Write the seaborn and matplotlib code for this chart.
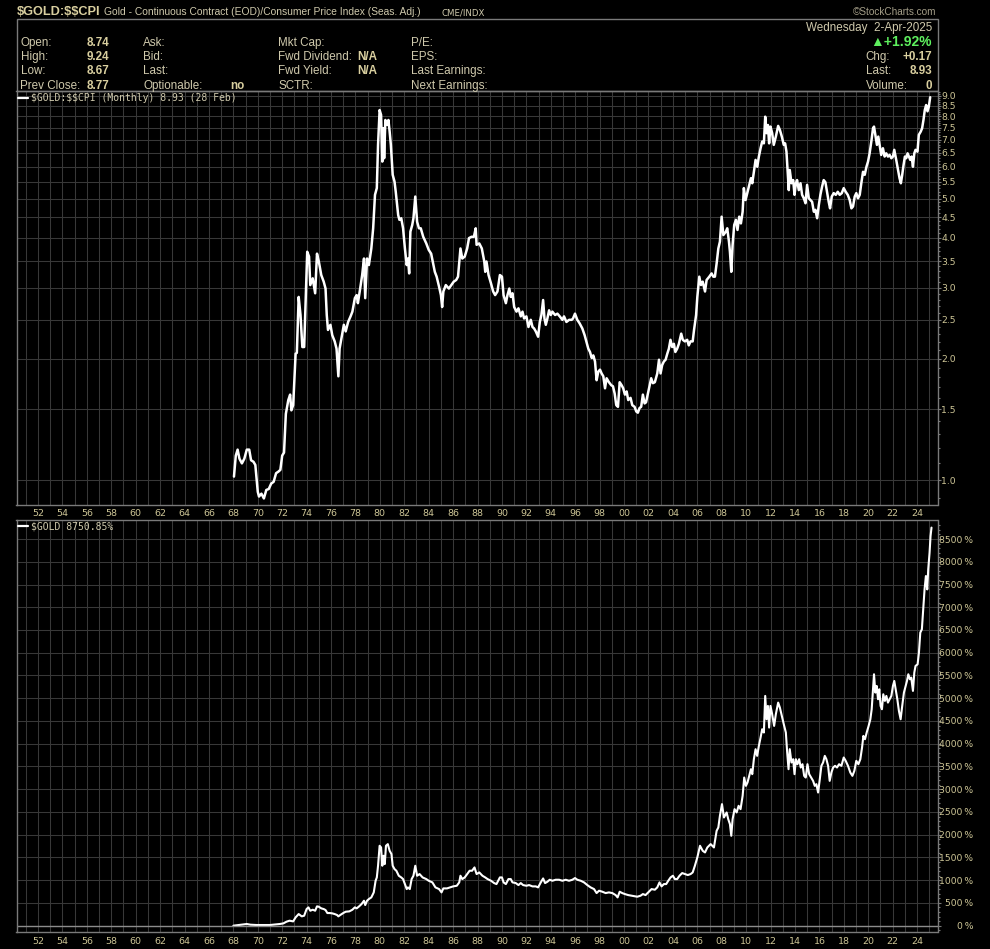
import numpy as np
import pandas as pd
import seaborn as sns
import matplotlib.pyplot as plt
from matplotlib.lines import Line2D
from matplotlib.patches import Rectangle
from matplotlib.ticker import FixedLocator, NullFormatter

# --- Gold / CPI ratio (monthly) ---
ratio_years = [
    1968.05, 1968.2, 1968.35, 1968.5, 1968.7, 1968.9, 1969.1, 1969.3, 1969.45, 1969.65,
    1969.8, 1970.0, 1970.1, 1970.3, 1970.5, 1970.7, 1970.9, 1971.1, 1971.3, 1971.5,
    1971.7, 1971.85, 1972.0, 1972.15, 1972.3, 1972.5, 1972.65, 1972.75, 1972.9, 1973.1,
    1973.2, 1973.35, 1973.5, 1973.65, 1973.8, 1974.05, 1974.2, 1974.3, 1974.5, 1974.7,
    1974.85, 1975.0, 1975.2, 1975.4, 1975.55, 1975.65, 1975.75, 1975.95, 1976.1, 1976.3,
    1976.45, 1976.6, 1976.7, 1976.9, 1977.05, 1977.2, 1977.4, 1977.6, 1977.75, 1977.95,
    1978.1, 1978.2, 1978.35, 1978.55, 1978.7, 1978.8, 1978.95, 1979.1, 1979.3, 1979.45,
    1979.6, 1979.75, 1979.85, 1979.98, 1980.1, 1980.2, 1980.3, 1980.35, 1980.45, 1980.6,
    1980.7, 1980.8, 1980.9, 1981.05, 1981.2, 1981.3, 1981.5, 1981.6, 1981.75, 1981.9,
    1982.05, 1982.2, 1982.3, 1982.4, 1982.5, 1982.65, 1982.75, 1982.9, 1983.05, 1983.2,
    1983.35, 1983.55, 1983.8, 1984.0, 1984.2, 1984.5, 1984.65, 1984.85, 1985.0, 1985.1,
    1985.2, 1985.4, 1985.65, 1985.85, 1986.05, 1986.25, 1986.4, 1986.6, 1986.75, 1986.95,
    1987.15, 1987.3, 1987.5, 1987.7, 1987.85, 1987.92, 1988.14, 1988.35, 1988.55, 1988.63,
    1988.73, 1988.9, 1989.1, 1989.28, 1989.44, 1989.63, 1989.83, 1990.0, 1990.13, 1990.32,
    1990.45, 1990.6, 1990.72, 1990.86, 1991.0, 1991.19, 1991.35, 1991.54, 1991.68, 1991.81,
    1992.0, 1992.17, 1992.36, 1992.5, 1992.63, 1992.77, 1992.96, 1993.1, 1993.23, 1993.37,
    1993.48, 1993.59, 1993.72, 1993.86, 1994.0, 1994.13, 1994.35, 1994.54, 1994.73, 1994.95,
    1995.08, 1995.28, 1995.5, 1995.71, 1995.82, 1995.98, 1996.17, 1996.36, 1996.58, 1996.77,
    1996.91, 1997.07, 1997.21, 1997.35, 1997.48, 1997.62, 1997.75, 1997.89, 1998.03, 1998.16,
    1998.3, 1998.44, 1998.57, 1998.76, 1998.95, 1999.09, 1999.23, 1999.36, 1999.5, 1999.64,
    1999.8, 1999.93, 2000.07, 2000.21, 2000.34, 2000.53, 2000.67, 2000.86, 2001.0, 2001.13,
    2001.27, 2001.4, 2001.54, 2001.68, 2001.8, 2001.95, 2002.09, 2002.22, 2002.36, 2002.52,
    2002.72, 2002.86, 2002.99, 2003.12, 2003.26, 2003.4, 2003.54, 2003.67, 2003.8, 2003.94,
    2004.08, 2004.2, 2004.35, 2004.49, 2004.68, 2004.81, 2004.98, 2005.17, 2005.3, 2005.44,
    2005.62, 2005.73, 2005.9, 2006.0, 2006.16, 2006.3, 2006.44, 2006.63, 2006.76, 2006.98,
    2007.17, 2007.31, 2007.44, 2007.58, 2007.72, 2007.85, 2007.99, 2008.13, 2008.34, 2008.45,
    2008.59, 2008.67, 2008.78, 2008.89, 2009.02, 2009.16, 2009.29, 2009.43, 2009.57, 2009.71,
    2009.81, 2009.95, 2010.09, 2010.25, 2010.39, 2010.5, 2010.63, 2010.77, 2010.91, 2011.04,
    2011.18, 2011.31, 2011.45, 2011.56, 2011.67, 2011.78, 2011.88, 2011.99, 2012.13, 2012.26,
    2012.43, 2012.62, 2012.76, 2012.92, 2013.08, 2013.19, 2013.3, 2013.41, 2013.49, 2013.57,
    2013.71, 2013.85, 2013.96, 2014.07, 2014.17, 2014.31, 2014.45, 2014.58, 2014.72, 2014.86,
    2014.99, 2015.13, 2015.26, 2015.4, 2015.54, 2015.67, 2015.81, 2015.95, 2016.08, 2016.22,
    2016.35, 2016.49, 2016.62, 2016.76, 2016.87, 2017.01, 2017.17, 2017.34, 2017.5, 2017.66,
    2017.83, 2017.99, 2018.15, 2018.32, 2018.48, 2018.62, 2018.75, 2018.89, 2019.02, 2019.16,
    2019.3, 2019.43, 2019.57, 2019.71, 2019.85, 2019.98, 2020.11, 2020.25, 2020.39, 2020.47,
    2020.6, 2020.71, 2020.82, 2020.93, 2021.06, 2021.2, 2021.34, 2021.47, 2021.61, 2021.75,
    2021.89, 2022.02, 2022.13, 2022.29, 2022.46, 2022.56, 2022.67, 2022.78, 2022.89, 2023.0,
    2023.11, 2023.22, 2023.33, 2023.44, 2023.55, 2023.66, 2023.77, 2023.87, 2024.03, 2024.14,
    2024.3, 2024.41, 2024.52, 2024.63, 2024.74, 2024.85, 2024.96, 2025.07,
]
ratio_values = [
    1.02, 1.15, 1.19, 1.13, 1.10, 1.13, 1.19, 1.19, 1.12, 1.11,
    1.09, 0.935, 0.91, 0.925, 0.90, 0.945, 0.95, 0.98, 0.99, 1.04,
    1.05, 1.06, 1.15, 1.17, 1.46, 1.58, 1.63, 1.49, 1.535, 2.06,
    2.07, 2.85, 2.57, 2.14, 2.14, 3.69, 3.59, 3.05, 3.17, 2.91,
    3.65, 3.49, 3.23, 3.11, 2.99, 2.57, 2.36, 2.43, 2.29, 2.21,
    2.12, 1.81, 2.12, 2.29, 2.43, 2.34, 2.47, 2.55, 2.62, 2.83,
    2.88, 2.75, 2.94, 3.23, 3.55, 2.83, 3.55, 3.42, 3.76, 4.22,
    5.11, 5.31, 6.80, 8.30, 8.07, 6.18, 7.48, 6.30, 7.84, 7.62,
    7.84, 7.34, 6.80, 5.73, 5.51, 5.20, 4.55, 4.43, 4.47, 4.22,
    3.76, 3.42, 3.55, 3.26, 4.14, 4.30, 4.47, 5.06, 4.38, 4.22,
    4.22, 4.02, 3.87, 3.73, 3.65, 3.29, 3.20, 3.02, 2.88, 2.69,
    2.94, 3.05, 2.99, 3.05, 3.11, 3.14, 3.20, 3.76, 3.55, 3.59,
    3.76, 3.99, 4.02, 4.02, 4.22, 3.84, 3.87, 3.76, 3.49, 3.29,
    3.49, 3.23, 3.08, 2.94, 2.88, 2.94, 3.23, 3.20, 2.88, 2.75,
    2.88, 2.99, 2.85, 2.91, 2.69, 2.62, 2.67, 2.55, 2.62, 2.52,
    2.55, 2.40, 2.50, 2.40, 2.38, 2.34, 2.27, 2.47, 2.57, 2.80,
    2.52, 2.43, 2.52, 2.64, 2.57, 2.62, 2.57, 2.59, 2.55, 2.50,
    2.55, 2.47, 2.50, 2.50, 2.52, 2.59, 2.50, 2.45, 2.38, 2.29,
    2.21, 2.12, 2.08, 2.01, 2.04, 1.97, 1.77, 1.86, 1.88, 1.84,
    1.81, 1.69, 1.79, 1.75, 1.72, 1.71, 1.64, 1.535, 1.52, 1.75,
    1.72, 1.69, 1.63, 1.66, 1.58, 1.60, 1.535, 1.52, 1.48, 1.47,
    1.51, 1.52, 1.63, 1.55, 1.56, 1.64, 1.72, 1.79, 1.74, 1.75,
    1.84, 1.99, 1.84, 1.93, 1.97, 1.99, 2.06, 2.12, 2.23, 2.14,
    2.18, 2.08, 2.12, 2.18, 2.31, 2.23, 2.21, 2.23, 2.16, 2.21,
    2.21, 2.36, 2.57, 2.85, 3.20, 3.05, 3.11, 2.94, 3.14, 3.20,
    3.26, 3.20, 3.20, 3.45, 3.76, 3.91, 4.51, 4.06, 4.14, 4.22,
    3.91, 3.69, 3.29, 3.84, 4.30, 4.43, 4.18, 4.51, 4.34, 4.64,
    5.31, 4.96, 5.16, 5.41, 5.62, 5.46, 5.83, 6.24, 6.00, 6.36,
    6.67, 6.93, 6.86, 7.99, 7.27, 7.62, 6.86, 7.55, 7.27, 6.80,
    7.13, 7.58, 7.41, 7.13, 6.80, 6.86, 6.54, 5.73, 5.25, 5.89,
    5.46, 5.56, 5.11, 5.46, 5.56, 5.25, 5.46, 5.11, 5.01, 4.87,
    5.41, 5.01, 4.96, 4.91, 4.64, 4.69, 4.47, 4.82, 5.11, 5.36,
    5.56, 5.49, 5.20, 4.91, 4.73, 5.06, 5.16, 5.11, 5.20, 5.11,
    5.16, 5.31, 5.20, 5.11, 4.96, 4.73, 4.78, 5.06, 5.16, 5.01,
    5.11, 5.46, 5.83, 5.73, 6.00, 6.18, 6.48, 6.93, 7.48, 7.55,
    7.13, 6.80, 7.13, 6.80, 6.42, 6.67, 6.36, 6.48, 6.36, 6.42,
    6.30, 6.36, 6.61, 6.24, 5.83, 5.62, 5.46, 5.73, 6.06, 6.36,
    6.30, 6.48, 6.36, 6.24, 6.36, 6.00, 6.48, 6.61, 6.54, 7.20,
    7.34, 7.48, 7.84, 8.30, 8.54, 8.24, 8.46, 8.93,
]

# --- $GOLD percent change since start ---
gold_years = [
    1968.0, 1969.1, 1969.4, 1969.9, 1971.0, 1971.5, 1971.8, 1972.1, 1972.35, 1972.6,
    1972.9, 1973.1, 1973.35, 1973.6, 1973.8, 1974.0, 1974.15, 1974.3, 1974.5, 1974.7,
    1974.85, 1975.0, 1975.2, 1975.4, 1975.55, 1975.7, 1975.9, 1976.1, 1976.3, 1976.5,
    1976.6, 1976.75, 1977.0, 1977.2, 1977.5, 1977.75, 1977.95, 1978.1, 1978.3, 1978.5,
    1978.7, 1978.8, 1978.95, 1979.1, 1979.3, 1979.5, 1979.65, 1979.75, 1979.85, 1979.98,
    1980.1, 1980.2, 1980.3, 1980.4, 1980.5, 1980.65, 1980.8, 1980.95, 1981.05, 1981.2,
    1981.35, 1981.55, 1981.75, 1981.9, 1982.05, 1982.2, 1982.3, 1982.45, 1982.6, 1982.75,
    1982.9, 1983.05, 1983.25, 1983.5, 1983.8, 1984.0, 1984.3, 1984.55, 1984.85, 1985.05,
    1985.2, 1985.5, 1985.75, 1986.0, 1986.3, 1986.5, 1986.6, 1986.75, 1986.95, 1987.15,
    1987.35, 1987.55, 1987.75, 1987.92, 1988.14, 1988.4, 1988.63, 1988.82, 1989.1, 1989.36,
    1989.55, 1989.83, 1990.0, 1990.13, 1990.32, 1990.53, 1990.72, 1990.86, 1991.13, 1991.35,
    1991.54, 1991.73, 1992.0, 1992.22, 1992.5, 1992.77, 1992.96, 1993.18, 1993.37, 1993.53,
    1993.72, 1993.91, 1994.13, 1994.4, 1994.68, 1994.95, 1995.22, 1995.49, 1995.77, 1995.98,
    1996.17, 1996.45, 1996.72, 1996.99, 1997.26, 1997.54, 1997.75, 1997.95, 1998.22, 1998.49,
    1998.76, 1999.04, 1999.31, 1999.47, 1999.64, 1999.85, 2000.07, 2000.34, 2000.61, 2000.89,
    2001.08, 2001.35, 2001.54, 2001.76, 2001.98, 2002.25, 2002.52, 2002.72, 2002.9, 2003.07,
    2003.26, 2003.45, 2003.62, 2003.81, 2004.0, 2004.16, 2004.35, 2004.54, 2004.76, 2004.98,
    2005.22, 2005.45, 2005.62, 2005.8, 2006.0, 2006.22, 2006.44, 2006.63, 2006.82, 2007.09,
    2007.36, 2007.58, 2007.72, 2007.85, 2008.02, 2008.18, 2008.4, 2008.53, 2008.67, 2008.78,
    2008.89, 2009.05, 2009.22, 2009.38, 2009.54, 2009.71, 2009.84, 2009.98, 2010.11, 2010.25,
    2010.39, 2010.5, 2010.63, 2010.77, 2010.9, 2011.04, 2011.18, 2011.31, 2011.45, 2011.56,
    2011.67, 2011.78, 2011.88, 2011.99, 2012.13, 2012.29, 2012.43, 2012.62, 2012.76, 2012.92,
    2013.08, 2013.25, 2013.36, 2013.47, 2013.57, 2013.71, 2013.85, 2013.96, 2014.07, 2014.2,
    2014.34, 2014.47, 2014.61, 2014.75, 2014.88, 2015.02, 2015.16, 2015.32, 2015.48, 2015.62,
    2015.75, 2015.89, 2016.03, 2016.16, 2016.3, 2016.44, 2016.57, 2016.71, 2016.84, 2016.98,
    2017.12, 2017.28, 2017.44, 2017.61, 2017.8, 2017.99, 2018.15, 2018.34, 2018.53, 2018.7,
    2018.86, 2019.02, 2019.19, 2019.35, 2019.49, 2019.6, 2019.73, 2019.87, 2020.03, 2020.17,
    2020.28, 2020.39, 2020.47, 2020.58, 2020.69, 2020.8, 2020.9, 2021.01, 2021.12, 2021.23,
    2021.36, 2021.48, 2021.61, 2021.75, 2021.89, 2022.02, 2022.13, 2022.24, 2022.38, 2022.51,
    2022.65, 2022.78, 2022.92, 2023.03, 2023.17, 2023.28, 2023.41, 2023.52, 2023.66, 2023.77,
    2023.87, 2024.04, 2024.15, 2024.26, 2024.39, 2024.5, 2024.61, 2024.72, 2024.83, 2024.91,
    2025.02, 2025.1, 2025.18,
]
gold_pct = [
    0, 37, 22, 15, 15, 29, 37, 51, 88, 110,
    95, 183, 256, 205, 220, 366, 403, 329, 351, 329,
    425, 417, 381, 366, 344, 278, 278, 271, 256, 234,
    205, 234, 278, 307, 315, 351, 403, 381, 425, 476,
    549, 454, 549, 586, 622, 732, 988, 1061, 1318, 1757,
    1720, 1318, 1537, 1354, 1757, 1793, 1647, 1574, 1318, 1244,
    1208, 1098, 1061, 1025, 915, 805, 842, 805, 1025, 1098,
    1318, 1098, 1135, 1061, 1025, 988, 952, 842, 805, 732,
    820, 820, 842, 864, 878, 952, 1098, 1025, 1061, 1135,
    1208, 1208, 1281, 1135, 1171, 1098, 1061, 1025, 988, 937,
    915, 1061, 1061, 952, 915, 1025, 1025, 952, 937, 893,
    937, 893, 878, 893, 864, 864, 842, 952, 1039, 937,
    966, 1010, 988, 1010, 1010, 988, 1010, 988, 1010, 1047,
    1010, 988, 952, 893, 842, 805, 717, 769, 747, 717,
    732, 717, 673, 622, 747, 717, 695, 673, 659, 644,
    637, 659, 695, 673, 732, 805, 791, 842, 952, 864,
    915, 915, 988, 1061, 1098, 1025, 1025, 1098, 1157, 1135,
    1113, 1135, 1171, 1318, 1501, 1757, 1647, 1610, 1720, 1793,
    1720, 2086, 2159, 2416, 2672, 2379, 2489, 2342, 2233, 1976,
    2342, 2562, 2489, 2635, 2562, 2855, 3257, 3074, 3148, 3294,
    3440, 3331, 3660, 3880, 3733, 3953, 4136, 4319, 4246, 5051,
    4538, 4831, 4355, 4831, 4648, 4392, 4648, 4904, 4795, 4612,
    4429, 4246, 3806, 3440, 3880, 3587, 3660, 3331, 3660, 3550,
    3660, 3477, 3550, 3294, 3257, 3550, 3331, 3257, 3184, 3074,
    3111, 2928, 3221, 3514, 3587, 3733, 3660, 3514, 3184, 3367,
    3477, 3514, 3477, 3550, 3514, 3697, 3624, 3514, 3367, 3294,
    3404, 3624, 3550, 3660, 3916, 4172, 4099, 4246, 4392, 4538,
    4758, 5197, 5527, 5124, 5270, 4978, 5197, 4831, 4758, 5087,
    4941, 5051, 4904, 4978, 5051, 5270, 5380, 5197, 4978, 4721,
    4538, 4831, 5124, 5234, 5380, 5527, 5417, 5453, 5161, 5563,
    5710, 5746, 6002, 6442, 6515, 6954, 7393, 7686, 7393, 7832,
    8198, 8564, 8751,
]

ratio_ticks = [1.0, 1.5, 2.0, 2.5, 3.0, 3.5, 4.0, 4.5, 5.0, 5.5, 6.0, 6.5, 7.0, 7.5, 8.0, 8.5, 9.0]
pct_ticks = list(range(0, 9000, 500))
year_ticks = list(range(1951, 2026))

TAN = "#cdc596"
LABEL = "#cfc9ac"
VALUE = "#d9cf9f"
GRID = "#383838"
SPINE = "#7a7a7a"

sns.set_theme(style="dark", rc={
    "figure.facecolor": "black",
    "axes.facecolor": "black",
    "axes.edgecolor": SPINE,
    "axes.linewidth": 1.0,
    "text.color": LABEL,
    "xtick.color": SPINE,
    "ytick.color": SPINE,
    "xtick.labelcolor": TAN,
    "ytick.labelcolor": TAN,
})
plt.rcParams["font.family"] = ["Liberation Sans", "DejaVu Sans"]

W, H = 990, 949


def box(x0, y0, x1, y1):
    return [x0 / W, 1 - y1 / H, (x1 - x0) / W, (y1 - y0) / H]


def ftext(x, y, s, **kw):
    fig.text(x / W, 1 - y / H, s, va="baseline", **kw)


fig = plt.figure(figsize=(9.9, 9.49), dpi=100)

ax1 = fig.add_axes(box(16.5, 90.7, 937.5, 505))
ax2 = fig.add_axes(box(16.5, 519.5, 937.5, 931.7))

top = pd.DataFrame({"year": ratio_years, "ratio": ratio_values})
bottom = pd.DataFrame({"year": gold_years, "pct": gold_pct})

sns.lineplot(data=top, x="year", y="ratio", ax=ax1, color="white", lw=1.8,
             estimator=None, sort=False)
sns.lineplot(data=bottom, x="year", y="pct", ax=ax2, color="white", lw=1.5,
             estimator=None, sort=False)

year_labels = [f"{y % 100:02d}" if y % 2 == 0 else "" for y in year_ticks]

for ax in (ax1, ax2):
    ax.set_xlim(1950.24, 2025.67)
    ax.set_xticks(year_ticks)
    ax.set_xticklabels(year_labels)
    ax.set_xlabel("")
    ax.set_ylabel("")
    ax.grid(True, which="major", color=GRID, lw=0.75)
    ax.tick_params(axis="x", length=0, labelsize=6.8, labelfontfamily="DejaVu Sans")
    ax.tick_params(axis="y", which="both", left=False, labelleft=False,
                   right=True, labelright=True, labelsize=6.7,
                   labelfontfamily="DejaVu Sans")
    ax.tick_params(axis="y", which="major", length=2.2, width=0.8)
    ax.tick_params(axis="y", which="minor", length=1.4, width=0.8)
    for s in ax.spines.values():
        s.set_color(SPINE)
ax1.tick_params(axis="x", pad=2.8)
ax2.tick_params(axis="x", pad=4)

# upper panel: log scale
ax1.set_yscale("log")
ax1.set_ylim(0.867, 9.27)
ax1.yaxis.set_major_locator(FixedLocator(ratio_ticks))
ax1.set_yticklabels([f"{v:.1f}" for v in ratio_ticks])
ax1.yaxis.set_minor_locator(FixedLocator(
    [round(v, 1) for v in np.arange(0.9, 9.25, 0.1) if round(v, 1) not in ratio_ticks]))
ax1.yaxis.set_minor_formatter(NullFormatter())
ax1.tick_params(axis="y", pad=0.6)

# lower panel: linear percent
ax2.set_ylim(-132, 8929)
ax2.yaxis.set_major_locator(FixedLocator(pct_ticks))
ax2.set_yticklabels([f"{v}\u2009%" for v in pct_ticks])
ax2.yaxis.set_minor_locator(FixedLocator([v for v in range(-100, 8900, 100) if v % 500]))
ax2.tick_params(axis="y", pad=23.5)
plt.setp(ax2.get_yticklabels(), ha="right")
ax2.axhline(0, color="#8c8c8c", lw=1.0)

# in-panel legends
fig.add_artist(Line2D([17.5 / W, 28 / W], [1 - 98.3 / H] * 2, color="white", lw=1.6))
ftext(31.5, 101.3, "$GOLD:$$CPI (Monthly) 8.93 (28 Feb)", color=LABEL,
      fontsize=7, family="DejaVu Sans Mono")
fig.add_artist(Line2D([17.5 / W, 28 / W], [1 - 526 / H] * 2, color="white", lw=1.6))
ftext(31.5, 529.3, "$GOLD 8750.85%", color=LABEL, fontsize=7, family="DejaVu Sans Mono")

# header
fig.add_artist(Rectangle((16.5 / W, 1 - 90.7 / H), 921 / W, 71.4 / H,
                         transform=fig.transFigure, fill=False, ec=SPINE, lw=1.0))
ftext(16.5, 15, "$GOLD:$$CPI", color=VALUE, fontsize=9.2, weight="bold")
ftext(104, 15, "Gold - Continuous Contract (EOD)/Consumer Price Index (Seas. Adj.)",
      color=LABEL, fontsize=7.4)
ftext(441, 15, "CME/INDX", color=LABEL, fontsize=6.2, family="DejaVu Sans")
ftext(936.5, 15, "\u00a9StockCharts.com", color="#a49e88", fontsize=7.2, ha="right")

rows = [45.8, 60.1, 74.4, 88.6]
col1 = ["Open:", "High:", "Low:", "Prev Close:"]
col1_vals = ["8.74", "9.24", "8.67", "8.77"]
col2 = ["Ask:", "Bid:", "Last:", "Optionable:"]
col3 = ["Mkt Cap:", "Fwd Dividend:", "Fwd Yield:", "SCTR:"]
col4 = ["P/E:", "EPS:", "Last Earnings:", "Next Earnings:"]
hs = 8.4
for i, y in enumerate(rows):
    ftext(20.5, y, col1[i], color=LABEL, fontsize=hs)
    ftext(109.5, y, col1_vals[i], color=VALUE, fontsize=hs, weight="bold", ha="right")
    ftext(143.3, y, col2[i], color=LABEL, fontsize=hs)
    ftext(278.3, y, col3[i], color=LABEL, fontsize=hs)
    ftext(410.7, y, col4[i], color=LABEL, fontsize=hs)
ftext(244.5, rows[3], "no", color=VALUE, fontsize=hs, weight="bold", ha="right")
ftext(357.5, rows[1], "N/A", color=VALUE, fontsize=hs, weight="bold")
ftext(357.5, rows[2], "N/A", color=VALUE, fontsize=hs, weight="bold")

ftext(932, 30.8, "Wednesday  2-Apr-2025", color=LABEL, fontsize=hs, ha="right")
ftext(932, 46, "\u25b2+1.92%", color="#5ef05e", fontsize=10, weight="bold", ha="right")
for y, lab, val in [(60.1, "Chg:", "+0.17"), (74.4, "Last:", "8.93"), (88.6, "Volume:", "0")]:
    ftext(865.7, y, lab, color=LABEL, fontsize=hs)
    ftext(932, y, val, color=VALUE, fontsize=hs, weight="bold", ha="right")

fig.savefig("out.png", dpi=100, facecolor="black")
